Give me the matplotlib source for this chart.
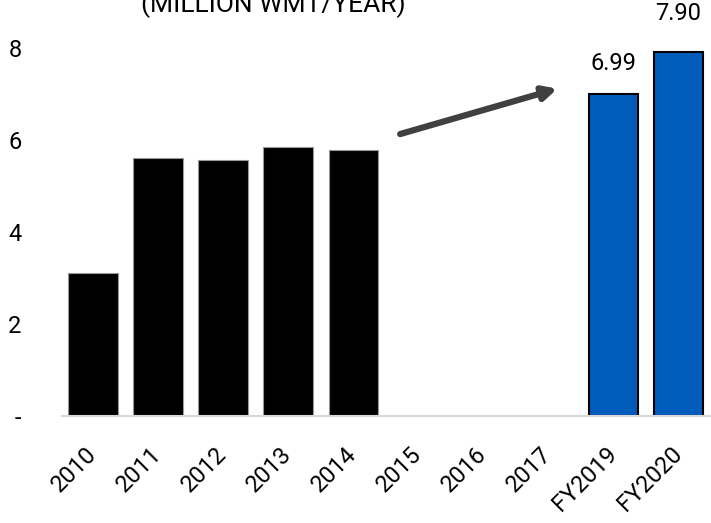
import numpy as np
import matplotlib.pyplot as plt

# Datos
years = ["2010", "2011", "2012", "2013", "2014", "2015", "2016", "2017", "FY2019", "FY2020"]
hist_vals = [3.11, 5.60, 5.57, 5.85, 5.78, np.nan, np.nan, np.nan, np.nan, np.nan]
fy_vals = [np.nan, np.nan, np.nan, np.nan, np.nan, np.nan, np.nan, np.nan, 6.99, 7.90]
yticks = [0, 2, 4, 6, 8]
ytick_labels = ["-", "2", "4", "6", "8"]

plt.rcParams['font.family'] = ['Roboto', 'DejaVu Sans']

fig = plt.figure(figsize=(7.11, 5.23), dpi=100)
ax = fig.add_axes([0.087, 0.2046, 0.913, 0.7954])

x = np.arange(len(years))
ax.bar(x, hist_vals, width=0.76, color="black", edgecolor="#999999", lw=0.8)
ax.bar(x, fy_vals, width=0.76, color="#005BBB", edgecolor="black", lw=1.5)

for xi, v in zip(x, fy_vals):
    if not np.isnan(v):
        off = 14 if xi == 8 else 20
        ax.annotate(f"{v:.2f}", (xi, v), xytext=(0, off), textcoords="offset points",
                    ha="center", va="bottom", fontsize=17)

ax.annotate("", xy=(7.18, 7.13), xytext=(4.68, 6.11),
            arrowprops=dict(arrowstyle="-|>,head_length=0.8,head_width=0.4",
                            color="#404040", lw=4.5))

ax.set_xlim(-0.48, 9.5)
ax.set_ylim(0, 9.04)
ax.set_xticks(x)
ax.set_xticklabels([])
# etiquetas del eje x giradas
for xi, lab in zip(x, years):
    ax.annotate(lab, (xi, 0), xytext=(-6, -19), textcoords="offset points",
                ha="right", va="top", rotation=45, rotation_mode="anchor",
                fontsize=17, annotation_clip=False)
ax.set_yticks(yticks)
ax.set_yticklabels(ytick_labels, fontsize=17)
ax.tick_params(axis="y", length=0, pad=29)
ax.tick_params(axis="x", length=0)
for s in ["top", "right", "left"]:
    ax.spines[s].set_visible(False)
ax.spines["bottom"].set_color("#d9d9d9")
ax.spines["bottom"].set_linewidth(1.5)
ax.patch.set_alpha(0)

fig.text(273/711, 1 - 12/523, "(MILLION WMT/YEAR)", ha="center", va="baseline", fontsize=19)

fig.savefig("out.png", dpi=100)
